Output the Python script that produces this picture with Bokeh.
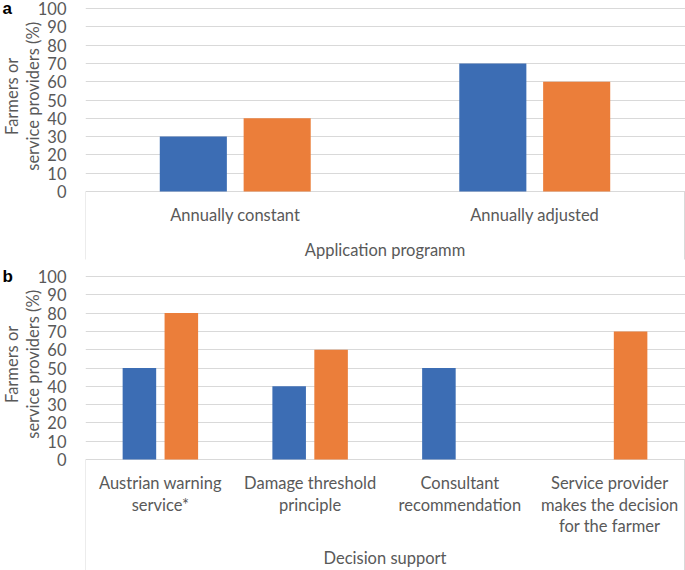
import numpy as np
from bokeh.plotting import figure
from bokeh.models import Range1d, FixedTicker, ColumnDataSource, Grid
from bokeh.layouts import column, row
from bokeh.embed import file_html
from bokeh.resources import INLINE
from bokeh.core.properties import value

# ---- data ----
categories_a = ["Annually constant", "Annually adjusted"]
farmers_a = [30, 70]
providers_a = [40, 60]
group_a = "Application programm"

categories_b = ["Austrian warning\nservice*", "Damage threshold\nprinciple",
                "Consultant\nrecommendation",
                "Service provider\nmakes the decision\nfor the farmer"]
farmers_b = [50, 40, 50, 0]
providers_b = [80, 60, 0, 70]
group_b = "Decision support"

y_ticks = list(range(0, 101, 10))
y_tick_labels = [str(v) for v in y_ticks]
y_title = ["Farmers or", "service providers (%)"]

# ---- style ----
BLUE = "#3C6DB4"
ORANGE = "#EB7E3A"
TEXT = "#595959"
GRID = "#D9D9D9"
FONT = "Lato"
FS = "16.5px"

W = 685
LEFT = 85                 # width of the left (tick label / title) strip
FRAME_W = W - LEFT
TOP_PAD = 8
PLOT_H = 183
ROWS_PX = [23.5, 45, 66.5]


def make_range(height):
    ppu = PLOT_H / 100.0
    return Range1d(-(height - TOP_PAD - PLOT_H) / ppu, 100 + TOP_PAD / ppu), ppu


def left_fig(tag, height, yr):
    t = figure(width=LEFT, height=height, x_range=Range1d(0, LEFT),
               y_range=yr, output_backend="svg",
               toolbar_location=None, min_border=0,
               x_axis_location=None, y_axis_location=None,
               outline_line_color=None)
    t.grid.visible = False
    # tick labels (placed on the shared y scale)
    t.text(x=[66] * len(y_ticks), y=y_ticks, text=y_tick_labels,
           text_align="right", text_baseline="middle",
           text_font=value(FONT), text_font_size=FS, text_color=TEXT)
    # axis title, two rotated lines
    t.text(x=[11, 32], y=[52, 52], text=y_title, angle=np.pi / 2,
           text_align="center", text_baseline="middle",
           text_font=value(FONT), text_font_size=FS, text_color=TEXT)
    t.text(x=[2], y=[100], text=[tag], text_align="left",
           text_baseline="middle", text_font=value("Liberation Sans"),
           text_font_style="bold", text_font_size="17px", text_color="black")
    return t


def panel(cats, s1, s2, group, height, yr, ppu, box_px, group_px):
    n = len(cats)
    xmax = n * FRAME_W / (FRAME_W - 1)
    p = figure(width=FRAME_W, height=height, x_range=Range1d(0, xmax),
               y_range=yr, output_backend="svg",
               toolbar_location=None, min_border=0,
               x_axis_location=None, y_axis_location=None,
               outline_line_color=None)
    p.grid.visible = False
    p.add_layout(Grid(dimension=1, ticker=FixedTicker(ticks=y_ticks),
                      grid_line_color=GRID, grid_line_width=1))

    idx = np.arange(n) + 0.5
    p.vbar(x=idx - 0.14, top=s1, bottom=0, width=0.224, fill_color=BLUE,
           line_color=None)
    p.vbar(x=idx + 0.14, top=s2, bottom=0, width=0.224, fill_color=ORANGE,
           line_color=None)

    # category box
    yb = -box_px / ppu
    p.segment(x0=[0, n], y0=[0, 0], x1=[0, n], y1=[yb, yb],
              line_color=GRID, line_width=1)

    xs, ys, ts = [], [], []
    for i, c in enumerate(cats):
        for j, line in enumerate(c.split("\n")):
            xs.append(i + 0.5)
            ys.append(-ROWS_PX[j] / ppu)
            ts.append(line)
    xs.append(n / 2.0)
    ys.append(-group_px / ppu)
    ts.append(group)
    src = ColumnDataSource(dict(x=xs, y=ys, t=ts))
    p.text(x="x", y="y", text="t", source=src, text_align="center",
           text_baseline="middle", text_font=value(FONT),
           text_font_size=FS, text_color=TEXT)
    return p


H_A, H_B = 268, 302
yr_a, ppu_a = make_range(H_A)
yr_b, ppu_b = make_range(H_B)
p1 = panel(categories_a, farmers_a, providers_a, group_a, H_A, yr_a, ppu_a, 68, 58)
p2 = panel(categories_b, farmers_b, providers_b, group_b, H_B, yr_b, ppu_b, 200, 98.5)
t1 = left_fig("a", H_A, yr_a)
t2 = left_fig("b", H_B, yr_b)

layout = column(row(t1, p1, spacing=0), row(t2, p2, spacing=0), spacing=0)
open("out.html", "w").write(file_html(layout, INLINE))
